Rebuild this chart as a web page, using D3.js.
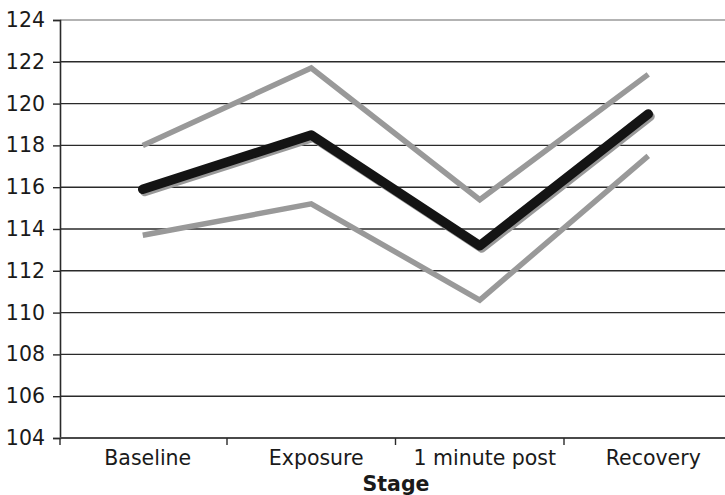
<!DOCTYPE html>
<html>
<head>
<meta charset="utf-8">
<script src="https://cdn.jsdelivr.net/npm/d3@7"></script>
<style>
  html, body { margin: 0; padding: 0; background: #fff; }
  svg { display: block; }
  text { font-family: "DejaVu Sans", Verdana, sans-serif; fill: #1a1a1a; }
</style>
</head>
<body>
<svg id="chart" width="725" height="495"></svg>
<script>
// Stages along the x axis
const stages = ["Baseline", "Exposure", "1 minute post", "Recovery"];
// Mean value per stage
const meanValues = [115.9, 118.5, 113.2, 119.5];
// Upper and lower bounds per stage
const upperValues = [118.0, 121.7, 115.4, 121.4];
const lowerValues = [113.7, 115.2, 110.6, 117.5];
// Y axis ticks
const yTicks = [104, 106, 108, 110, 112, 114, 116, 118, 120, 122, 124];
const xTitle = "Stage";

const svg = d3.select("#chart");
const plotLeft = 60, plotTop = 20, plotBottom = 438;
const fontSize = 20.5;

const x = d3.scaleBand().domain(stages).range([58.5, 732.5]);
const y = d3.scaleLinear().domain([104, 124]).range([plotBottom, plotTop]);
const cx = d => x(d) + x.bandwidth() / 2;

// Horizontal gridlines
svg.append("g")
  .selectAll("line")
  .data(yTicks.filter(t => t !== 104))
  .join("line")
  .attr("x1", plotLeft).attr("x2", 725)
  .attr("y1", d => y(d)).attr("y2", d => y(d))
  .attr("stroke", d => d === 124 ? "#9a9a9a" : "#2a2a2a")
  .attr("stroke-width", 1.4);

// Y axis
const yAxis = svg.append("g")
  .attr("transform", `translate(${plotLeft},0)`)
  .call(d3.axisLeft(y).tickValues(yTicks).tickSize(7).tickPadding(8).tickFormat(d3.format("d")));
yAxis.select(".domain").attr("stroke", "#2a2a2a").attr("stroke-width", 1.6);
yAxis.selectAll(".tick line").attr("stroke", "#2a2a2a").attr("stroke-width", 1.4);
yAxis.selectAll("text").attr("font-size", fontSize).attr("font-family", "DejaVu Sans, Verdana, sans-serif").attr("fill", "#1a1a1a");

// X axis line and ticks at category boundaries
svg.append("line")
  .attr("x1", plotLeft).attr("x2", 725)
  .attr("y1", plotBottom).attr("y2", plotBottom)
  .attr("stroke", "#4a4a4a").attr("stroke-width", 2);
svg.append("g")
  .selectAll("line")
  .data(stages.slice(1))
  .join("line")
  .attr("x1", d => x(d)).attr("x2", d => x(d))
  .attr("y1", plotBottom).attr("y2", plotBottom + 7)
  .attr("stroke", "#2a2a2a").attr("stroke-width", 1.4);
svg.append("line")
  .attr("x1", plotLeft).attr("x2", plotLeft)
  .attr("y1", plotBottom).attr("y2", plotBottom + 7)
  .attr("stroke", "#2a2a2a").attr("stroke-width", 1.4);

svg.append("g")
  .selectAll("text")
  .data(stages)
  .join("text")
  .attr("x", d => cx(d) + 5)
  .attr("y", 465)
  .attr("text-anchor", "middle")
  .attr("font-size", fontSize)
  .text(d => d);

svg.append("text")
  .attr("x", 396).attr("y", 491)
  .attr("text-anchor", "middle")
  .attr("font-size", fontSize)
  .attr("font-weight", "bold")
  .text(xTitle);

// Lines
const line = d3.line()
  .x((d, i) => cx(stages[i]))
  .y(d => y(d));

const plot = svg.append("g");
[upperValues, lowerValues].forEach(vals => {
  plot.append("path")
    .attr("d", line(vals))
    .attr("fill", "none")
    .attr("stroke", "#999999")
    .attr("stroke-width", 5.5)
    .attr("stroke-linejoin", "miter");
});

// Drop shadow beneath the mean line
plot.append("path")
  .attr("d", line(meanValues))
  .attr("transform", "translate(2,2.5)")
  .attr("fill", "none")
  .attr("stroke", "#999999")
  .attr("stroke-width", 9)
  .attr("stroke-linejoin", "round")
  .attr("stroke-linecap", "round");

plot.append("path")
  .attr("d", line(meanValues))
  .attr("fill", "none")
  .attr("stroke", "#141414")
  .attr("stroke-width", 9.5)
  .attr("stroke-linejoin", "round")
  .attr("stroke-linecap", "round");
</script>
</body>
</html>
